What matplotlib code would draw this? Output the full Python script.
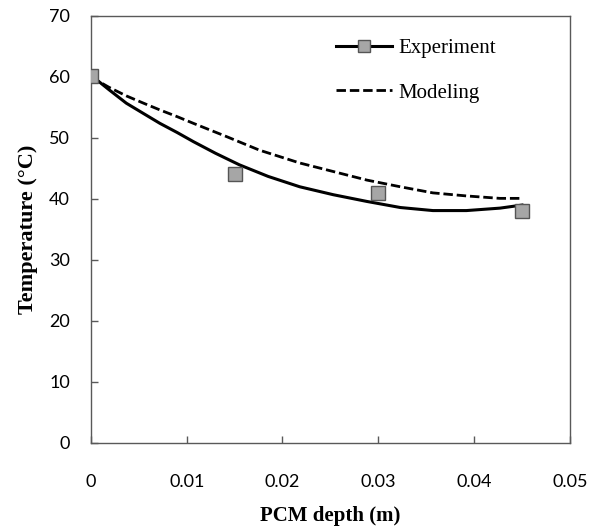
import matplotlib.pyplot as plt

#---    Data
exp_x = [0.0, 0.015, 0.030, 0.045]
exp_y = [60.2, 44.1, 40.9, 38.1]

fit_x = [0.0, 0.0019, 0.0037, 0.0055, 0.0072, 0.0090, 0.0107, 0.0130, 0.0155, 0.0185, 0.0218, 0.0253, 0.0288, 0.0323, 0.0357, 0.0392, 0.0427, 0.0450]
fit_y = [60.3, 57.9, 55.7, 54.0, 52.4, 50.9, 49.4, 47.5, 45.6, 43.7, 42.0, 40.7, 39.6, 38.6, 38.1, 38.1, 38.5, 39.0]

mod_x = [0.0, 0.0019, 0.0037, 0.0055, 0.0072, 0.0090, 0.0107, 0.0142, 0.0176, 0.0218, 0.0253, 0.0288, 0.0323, 0.0357, 0.0392, 0.0427, 0.0450]
mod_y = [60.0, 58.3, 56.9, 55.7, 54.6, 53.5, 52.4, 50.2, 48.0, 45.9, 44.5, 43.1, 42.0, 41.0, 40.5, 40.1, 40.1]

x_ticks = [0, 0.01, 0.02, 0.03, 0.04, 0.05]
x_tick_labels = ['0', '0.01', '0.02', '0.03', '0.04', '0.05']
y_ticks = [0, 10, 20, 30, 40, 50, 60, 70]

fs_ticks = 13
fs_legend = 15
fs_labels = 15
spine_col = '#595959'

fig = plt.figure(figsize=(5.98, 5.29), dpi=100)
ax = fig.add_axes([0.152, 0.1626, 0.801, 0.8072])

#---    Curves
ax.plot(fit_x, fit_y, color='black', linewidth=2.2, linestyle='solid', zorder=2)
mod_line, = ax.plot(mod_x, mod_y, color='black', linewidth=2.0, linestyle=(0, (3.4, 1.4)), zorder=2)
ax.plot(exp_x, exp_y, linestyle='none', marker='s', markersize=10.5,
        markerfacecolor='#A6A6A6', markeredgecolor='#555555', markeredgewidth=1.0, zorder=3)

# legend proxy for Experiment (line + marker)
exp_handle, = ax.plot([], [], color='black', linewidth=2.2, marker='s', markersize=8.5,
                      markerfacecolor='#A6A6A6', markeredgecolor='#555555', markeredgewidth=1.0)

ax.legend([exp_handle, mod_line], ['Experiment', 'Modeling'], loc='upper left',
          bbox_to_anchor=(0.511, 0.947), frameon=False, borderpad=0, borderaxespad=0,
          handlelength=2.7, handletextpad=0.3, labelspacing=1.2, numpoints=1,
          prop={'family': 'Liberation Serif', 'size': fs_legend})

#---    Axes
ax.set_xlim(0, 0.05)
ax.set_ylim(0, 70)
ax.set_xticks(x_ticks)
ax.set_xticklabels(x_tick_labels)
ax.set_yticks(y_ticks)
ax.tick_params(direction='in', length=5, width=1, color=spine_col, labelsize=fs_ticks, pad=22,
               top=False, right=False)
ax.tick_params(axis='y', pad=15)
for lab in ax.get_xticklabels() + ax.get_yticklabels():
    lab.set_family('Lato')
for s in ax.spines.values():
    s.set_color(spine_col)
    s.set_linewidth(1.0)

ax.set_xlabel('PCM depth (m)', fontsize=fs_labels, weight='bold', family='Liberation Serif', labelpad=12)
ax.set_ylabel('Temperature (°C)', fontsize=16, weight='bold', family='Liberation Serif', labelpad=8)

fig.savefig('out.png', dpi=100)
